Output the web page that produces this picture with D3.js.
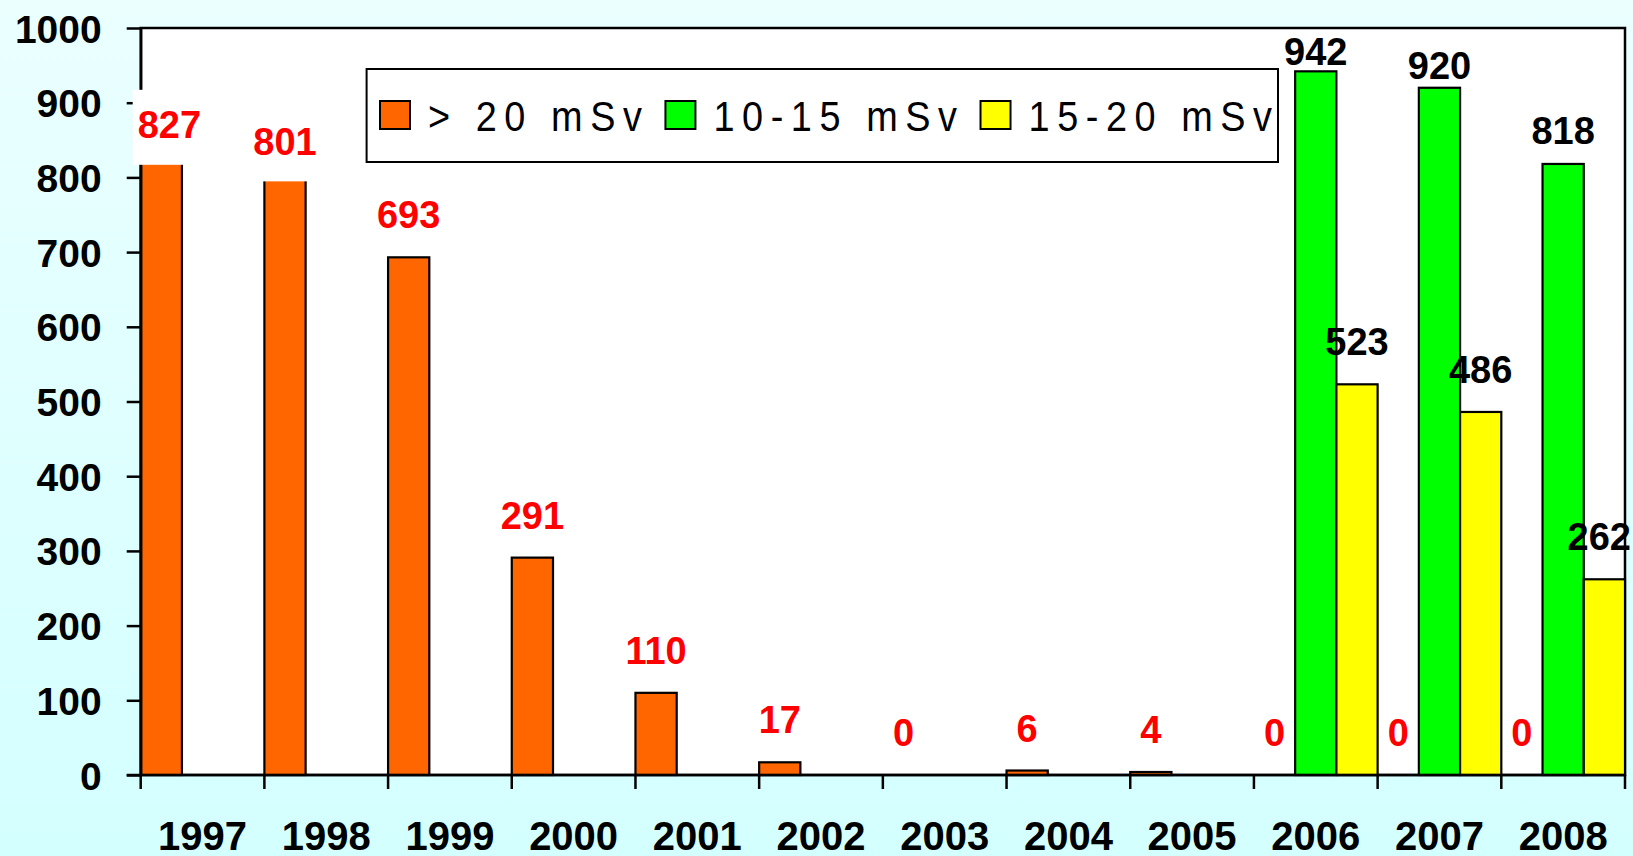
<!DOCTYPE html>
<html>
<head>
<meta charset="utf-8">
<script src="https://cdn.jsdelivr.net/npm/d3@7"></script>
<style>
  html, body { margin: 0; padding: 0; }
  body { width: 1633px; height: 856px; overflow: hidden; }
  svg { display: block; font-family: "Liberation Sans", Arial, sans-serif; }
</style>
</head>
<body>
<svg id="chart" width="1633" height="856"></svg>
<script>
// data
var years = ["1997", "1998", "1999", "2000", "2001", "2002",
             "2003", "2004", "2005", "2006", "2007", "2008"];
var over20 = [827, 801, 693, 291, 110, 17, 0, 6, 4, 0, 0, 0];
var from10to15 = [null, null, null, null, null, null, null, null, null, 942, 920, 818];
var from15to20 = [null, null, null, null, null, null, null, null, null, 523, 486, 262];
var seriesNames = ["> 20 mSv", "10-15 mSv", "15-20 mSv"];
var yTicks = [0, 100, 200, 300, 400, 500, 600, 700, 800, 900, 1000];

var colors = ["#ff6600", "#00ff00", "#ffff00"];
var labelColors = ["#ff0000", "#000000", "#000000"];

var W = 1633, H = 856;
var plot = { left: 140.7, right: 1625, top: 28, bottom: 775 };

var svg = d3.select("#chart");

// background gradient
var defs = svg.append("defs");
var grad = defs.append("linearGradient")
  .attr("id", "bg").attr("x1", 0).attr("y1", 0).attr("x2", 0).attr("y2", 1);
grad.append("stop").attr("offset", "0%").attr("stop-color", "#ebffff");
grad.append("stop").attr("offset", "100%").attr("stop-color", "#d4ffff");
svg.append("rect").attr("width", W).attr("height", H).attr("fill", "url(#bg)");

var x = d3.scaleBand().domain(years).range([plot.left, plot.right]).padding(0);
var x1 = d3.scaleBand().domain([0, 1, 2]).range([0, x.bandwidth()]).padding(0);
var y = d3.scaleLinear().domain([0, 1000]).range([plot.bottom, plot.top]);

// plot area
svg.append("rect")
  .attr("x", plot.left).attr("y", plot.top)
  .attr("width", plot.right - plot.left).attr("height", plot.bottom - plot.top)
  .attr("fill", "#ffffff").attr("stroke", "#000").attr("stroke-width", 2.5);

// build flat list of bars
var series = [over20, from10to15, from15to20];
var bars = [];
series.forEach(function(vals, si) {
  vals.forEach(function(v, i) {
    if (v === null) return;
    bars.push({ year: years[i], value: v, s: si });
  });
});

svg.append("g").selectAll("rect")
  .data(bars.filter(function(d) { return d.value > 0; }))
  .join("rect")
  .attr("x", function(d) { return x(d.year) + x1(d.s); })
  .attr("width", x1.bandwidth())
  .attr("y", function(d) { return y(d.value); })
  .attr("height", function(d) { return y(0) - y(d.value); })
  .attr("fill", function(d) { return colors[d.s]; })
  .attr("stroke", "#000").attr("stroke-width", 2.2);

// y axis
var yAxis = svg.append("g")
  .attr("transform", "translate(" + plot.left + ",0)")
  .call(d3.axisLeft(y).tickValues(yTicks).tickFormat(d3.format("d"))
    .tickSize(14).tickSizeOuter(0).tickPadding(25));
yAxis.select(".domain").attr("stroke-width", 2.5);
yAxis.selectAll(".tick line").attr("stroke-width", 2.5);
yAxis.selectAll(".tick text")
  .attr("font-size", "39px").attr("font-weight", "bold")
  .attr("font-family", "'Liberation Sans', Arial, sans-serif")
  .attr("fill", "#000").attr("dy", "0.36em");

// x axis: line + ticks at band edges
var xAxisG = svg.append("g");
xAxisG.append("line")
  .attr("x1", plot.left - 14).attr("x2", plot.right)
  .attr("y1", y(0)).attr("y2", y(0))
  .attr("stroke", "#000").attr("stroke-width", 2.5);
var edges = years.map(function(d) { return x(d); }).concat([plot.right]);
xAxisG.selectAll("line.tick").data(edges).join("line")
  .attr("class", "tick")
  .attr("x1", function(d) { return d; }).attr("x2", function(d) { return d; })
  .attr("y1", y(0)).attr("y2", y(0) + 14)
  .attr("stroke", "#000").attr("stroke-width", 2.5);
xAxisG.selectAll("text").data(years).join("text")
  .attr("x", function(d) { return x(d) + x.bandwidth() / 2; })
  .attr("y", 849.5)
  .attr("text-anchor", "middle")
  .attr("font-size", "40px").attr("font-weight", "bold")
  .text(function(d) { return d; });

// value labels
function labelGap(v) {
  return Math.min(29, (1000 - v) * 0.11);
}
var labelG = svg.append("g");
bars.forEach(function(d) {
  var cx = x(d.year) + x1(d.s) + x1.bandwidth() / 2;
  var base = y(d.value) - labelGap(d.value);
  var g = labelG.append("g");
  var t = g.append("text")
    .attr("x", cx).attr("y", base)
    .attr("text-anchor", "middle")
    .attr("font-size", "38px").attr("font-weight", "bold")
    .attr("fill", labelColors[d.s])
    .text(d.value);
  var w = t.node().getComputedTextLength();
  // keep labels inside the picture
  if (cx + w / 2 > W - 2) {
    cx = W - 2 - w / 2;
    t.attr("x", cx);
  }
  if (d.s === 0) {
    // these labels carry a white box, as in the source slide
    var minLeft = plot.left - 8 + 5;
    if (cx - w / 2 < minLeft) {
      cx = minLeft + w / 2;
      t.attr("x", cx);
    }
    g.insert("rect", "text")
      .attr("x", cx - w / 2 - 5).attr("width", w + 10)
      .attr("y", base - 48.4).attr("height", 75)
      .attr("fill", "#ffffff");
  }
});

// legend (tall narrow glyphs with wide spacing)
var legend = svg.append("g");
legend.append("rect")
  .attr("x", 366.6).attr("y", 69).attr("width", 1278 - 366.6).attr("height", 93)
  .attr("fill", "#fff").attr("stroke", "#000").attr("stroke-width", 2);
var sx = 0.88;
var lx = 380;
seriesNames.forEach(function(name, i) {
  legend.append("rect")
    .attr("x", lx).attr("y", 101).attr("width", 30).attr("height", 28)
    .attr("fill", colors[i]).attr("stroke", "#000").attr("stroke-width", 2);
  var t = legend.append("text")
    .attr("transform", "translate(" + (lx + 48) + ",131) scale(" + sx + ",1)")
    .attr("font-size", "43px")
    .attr("letter-spacing", "8.6px")
    .attr("fill", "#000")
    .text(name);
  lx = lx + 48 + t.node().getComputedTextLength() * sx + 16;
});
</script>
</body>
</html>
